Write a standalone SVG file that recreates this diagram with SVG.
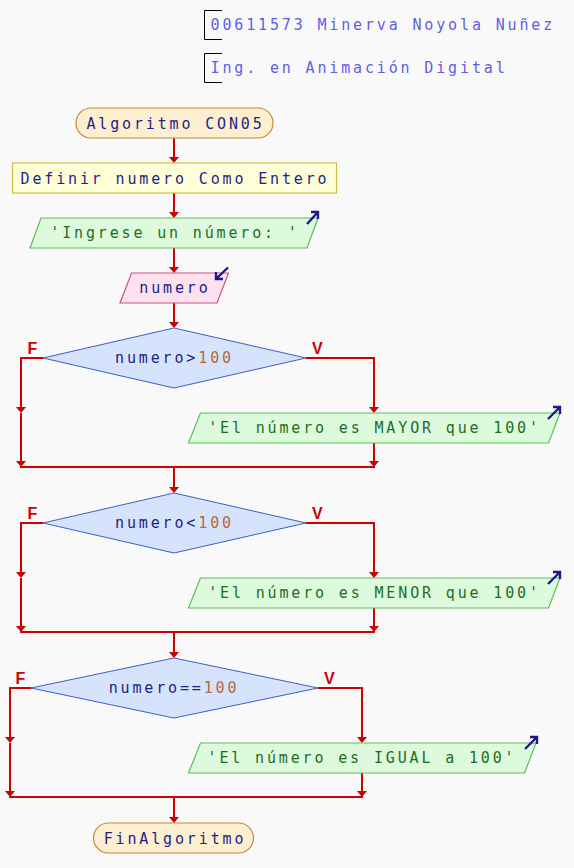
<svg xmlns="http://www.w3.org/2000/svg" width="574" height="868" viewBox="0 0 574 868">
<defs>
<marker id="ah" markerUnits="userSpaceOnUse" markerWidth="6" markerHeight="10" refX="3" refY="5" orient="auto" viewBox="0 0 6 10">
<path d="M0,0 L6,5 L0,10 z" fill="#cc0000"/>
</marker>
<style>
text{font-family:"DejaVu Sans Mono","Liberation Mono",monospace;font-size:15px;letter-spacing:2.85px;}
.hdr{fill:#5f5fe8;}
.t{fill:#1f1f87;text-anchor:middle;}
.o{fill:#1e6e1e;text-anchor:middle;}
.num{fill:#b8683c;}
.term{fill:#fdefd0;stroke:#c8883a;stroke-width:1.2;}
.proc{fill:#ffffd8;stroke:#c8c048;stroke-width:1.2;}
.out{fill:#ddfadd;stroke:#5cbf5c;stroke-width:1.2;}
.in{fill:#fde2ee;stroke:#c4568a;stroke-width:1.2;}
.dec{fill:#d5e3fc;stroke:#3d5fc9;stroke-width:1;}
.icon{fill:none;stroke:#1a1a8c;stroke-width:2.4;}
.c{fill:none;stroke:#cc0000;stroke-width:2;}
.ca{fill:none;stroke:#cc0000;stroke-width:2;marker-end:url(#ah);}
.fv{font-family:"Liberation Sans",Arial,sans-serif;font-weight:bold;font-size:16px;letter-spacing:0;fill:#cc0000;}
.br{fill:none;stroke:#000;stroke-width:1;}
</style>
</defs>
<rect x="0" y="0" width="574" height="868" fill="#f9f9f9"/>

<g id="header">
<path class="br" d="M222,10.5 H204.5 V39.5 H222"/>
<text class="hdr" x="210.5" y="29.5">00611573 Minerva Noyola Nuñez</text>
<path class="br" d="M222,53.5 H204.5 V82.5 H222"/>
<text class="hdr" x="210.5" y="73">Ing. en Animación Digital</text>
</g>

<g id="connectors">
<path class="ca" d="M174,138 V160"/>
<path class="ca" d="M174,193 V215"/>
<path class="ca" d="M174,248 V270"/>
<path class="ca" d="M174,303 V325"/>
<path class="ca" d="M43,358 H21 V410"/>
<path class="ca" d="M21,413 V464"/>
<path class="ca" d="M306,358 H374 V410"/>
<path class="ca" d="M374,443 V464"/>
<path class="c" d="M20,467 H375"/>
<path class="ca" d="M174,467 V490"/>
<path class="ca" d="M43,523 H21 V575"/>
<path class="ca" d="M21,578 V629"/>
<path class="ca" d="M306,523 H374 V575"/>
<path class="ca" d="M374,608 V629"/>
<path class="c" d="M20,632 H375"/>
<path class="ca" d="M174,632 V655"/>
<path class="ca" d="M31,688 H10 V740"/>
<path class="ca" d="M10,743 V794"/>
<path class="ca" d="M318,688 H362 V740"/>
<path class="ca" d="M362,773 V794"/>
<path class="c" d="M9,797 H363"/>
<path class="ca" d="M174,797 V820"/>
</g>

<g id="start">
<rect class="term" x="76" y="108" width="197" height="30" rx="15"/>
<text class="t" x="175.5" y="128.5">Algoritmo CON05</text>
</g>

<g id="define">
<rect class="proc" x="12.5" y="163" width="324" height="30"/>
<text class="t" x="175" y="183.5">Definir numero Como Entero</text>
</g>

<g id="output-ingrese">
<polygon class="out" points="41,218 318,218 307,248 30,248"/>
<text class="o" x="175" y="238">'Ingrese un número: '</text>
<path class="icon" d="M307,224 L318,212 M311,212 H318 V219"/>
</g>

<g id="input-numero">
<polygon class="in" points="131.5,273 228.5,273 217,303 120,303"/>
<text class="t" x="175" y="293">numero</text>
<path class="icon" d="M228,267.5 L216,279 M216,272 V279 H223"/>
</g>

<g id="decision-mayor">
<polygon class="dec" points="174,328 306,358 174,388 43,358"/>
<text class="t" x="174.5" y="363">numero&gt;<tspan class="num">100</tspan></text>
<text class="fv" x="27.5" y="354">F</text>
<text class="fv" x="312" y="354">V</text>
</g>

<g id="output-mayor">
<polygon class="out" points="200.5,413 560,413 548.5,443 188.5,443"/>
<text class="o" x="374.5" y="433">'El número es MAYOR que 100'</text>
<path class="icon" d="M548,419 L560,407 M553,407 H560 V414"/>
</g>

<g id="decision-menor">
<polygon class="dec" points="174,493 306,523 174,553 43,523"/>
<text class="t" x="174.5" y="528">numero&lt;<tspan class="num">100</tspan></text>
<text class="fv" x="27.5" y="519">F</text>
<text class="fv" x="312" y="519">V</text>
</g>

<g id="output-menor">
<polygon class="out" points="200.5,578 560,578 548.5,608 188.5,608"/>
<text class="o" x="374.5" y="598">'El número es MENOR que 100'</text>
<path class="icon" d="M548,584 L560,572 M553,572 H560 V579"/>
</g>

<g id="decision-igual">
<polygon class="dec" points="174,658 318,688 174,718 31,688"/>
<text class="t" x="174" y="693">numero==<tspan class="num">100</tspan></text>
<text class="fv" x="15.5" y="684">F</text>
<text class="fv" x="324" y="684">V</text>
</g>

<g id="output-igual">
<polygon class="out" points="200.5,743 536,743 524.5,773 188.5,773"/>
<text class="o" x="362" y="763">'El número es IGUAL a 100'</text>
<path class="icon" d="M525,749 L537,737 M530,737 H537 V744"/>
</g>

<g id="end">
<rect class="term" x="93.5" y="823" width="160" height="30" rx="15"/>
<text class="t" x="175" y="843.5">FinAlgoritmo</text>
</g>
</svg>
